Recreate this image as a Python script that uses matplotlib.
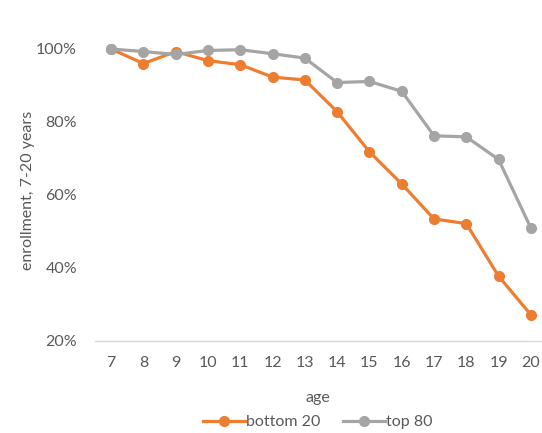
import matplotlib
matplotlib.use("Agg")
import matplotlib.pyplot as plt
from matplotlib.ticker import FuncFormatter

# --- data ---
ages = [7, 8, 9, 10, 11, 12, 13, 14, 15, 16, 17, 18, 19, 20]
bottom20 = [1.00, 0.960, 0.993, 0.968, 0.957, 0.923, 0.915, 0.828, 0.718, 0.630,
            0.534, 0.521, 0.377, 0.271]
top80 = [1.00, 0.993, 0.985, 0.996, 0.998, 0.987, 0.975, 0.908, 0.911, 0.884,
         0.762, 0.759, 0.697, 0.509]
series_names = ["bottom 20", "top 80"]
y_ticks = [0.2, 0.4, 0.6, 0.8, 1.0]

ORANGE = "#ED7D31"
GRAY = "#A5A5A5"
TEXT = "#595959"

plt.rcParams['font.family'] = ['Lato', 'DejaVu Sans']
plt.rcParams['font.size'] = 11

W, H = 542, 433
fig = plt.figure(figsize=(W / 100, H / 100), dpi=100)
# plot area runs a bit past the right edge, as in the cropped original
ax = fig.add_axes([95 / W, 1 - 340.7 / H, (547 - 95) / W, (340.7 - 49) / H])

ax.plot(ages, bottom20, color=ORANGE, lw=2.3, marker='o', ms=7,
        label=series_names[0], clip_on=False, zorder=3)
ax.plot(ages, top80, color=GRAY, lw=2.3, marker='o', ms=7,
        label=series_names[1], clip_on=False, zorder=4)

ax.set_xlim(6.5, 20.5)
ax.set_ylim(0.2, 1.0)
ax.set_xticks(ages)
ax.set_yticks(y_ticks)
ax.yaxis.set_major_formatter(FuncFormatter(lambda v, p: f"{v:.0%}"))

for s in ['top', 'right', 'left']:
    ax.spines[s].set_visible(False)
ax.spines['bottom'].set_color('#D9D9D9')
ax.spines['bottom'].set_linewidth(1)
ax.tick_params(axis='x', length=0, pad=11, colors=TEXT, labelsize=11.5)
ax.tick_params(axis='y', length=0, pad=13, colors=TEXT, labelsize=11.5)

fig.text(28 / W, 1 - 190 / H, "enrollment, 7-20 years", rotation=90,
         ha='center', va='center', color=TEXT, fontsize=11.5)
fig.text(318 / W, 1 - 398 / H, "age", ha='center', va='center',
         color=TEXT, fontsize=11.5)

# title sits above the cropped top edge; only its descenders show
fig.text(348 / W, 1 + 4 / H, "Enrollment by age", ha='center', va='baseline',
         color=TEXT, fontsize=14)

leg = fig.legend(loc='center', bbox_to_anchor=(318 / W, 1 - 422 / H), ncol=2,
                 frameon=False, handlelength=2.6, handletextpad=0.1,
                 columnspacing=1.4, fontsize=11.5, borderpad=0)
for t in leg.get_texts():
    t.set_color(TEXT)

fig.savefig("out.png", dpi=100)
